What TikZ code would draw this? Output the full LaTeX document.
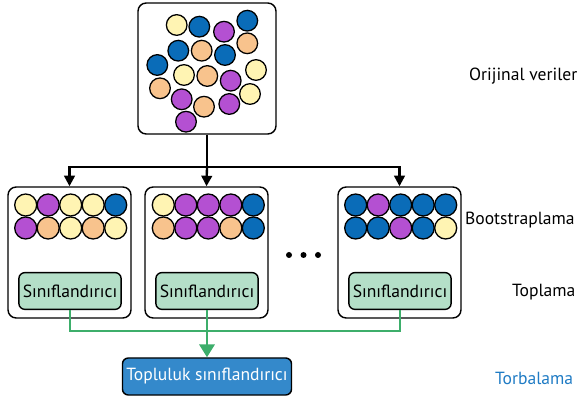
\documentclass[tikz,border=0pt]{standalone}
\usepackage{fontspec}
\setmainfont{PT Sans}
\usetikzlibrary{arrows.meta}

\definecolor{cyellow}{HTML}{FFF4B3}
\definecolor{corange}{HTML}{F8C38D}
\definecolor{cpurple}{HTML}{B450D2}
\definecolor{cblue}{HTML}{0A6CB8}
\definecolor{gfill}{HTML}{B4DFC8}
\definecolor{gline}{HTML}{3DAE6B}
\definecolor{ensfill}{HTML}{3489CB}
\definecolor{labblue}{HTML}{1F7BC4}

\tikzset{
  bigbox/.style={draw, line width=1.2pt, rounded corners=7pt, inner sep=0pt},
  clsbox/.style={draw, line width=1.2pt, rounded corners=5pt, fill=gfill,
    minimum width=2.96cm, minimum height=1.1cm, font=\fontsize{15}{17}\selectfont},
  ball/.style={draw, line width=1.1pt},
  sidelabel/.style={anchor=west, font=\fontsize{15}{17}\selectfont}
}

\begin{document}
\begin{tikzpicture}[x=0.03cm, y=-0.03cm]
        \useasboundingbox (0,0) rectangle (580,399);

        % Original data box
        \node[bigbox, minimum width=4.14cm, minimum height=3.93cm] (orig) at (207,68.5) {};
        \foreach \x/\y/\c in {176.7/25/cyellow, 199.3/26.7/cblue, 224/31.7/cpurple, 247.3/20.7/cblue,
            178.3/50.7/cblue, 201.7/50.7/corange, 225/55/cblue, 247.3/43.3/corange,
            157.3/65/cblue, 184/75/cyellow, 207.3/76/corange, 230.7/80.7/cpurple, 256/70/cyellow,
            160/88.3/corange, 181.7/99.3/cpurple, 204/106.7/corange, 229.3/104/cpurple,
            250/94/cyellow, 186/121.7/cpurple} {
            \filldraw[ball, fill=\c] (\x,\y) circle[radius=0.31cm];
        }

        % Bootstrap boxes
        \node[bigbox, minimum width=3.69cm, minimum height=3.93cm] (boot1) at (69.5,252.5) {};
        \node[bigbox, minimum width=3.69cm, minimum height=3.93cm] (boot2) at (206.5,252.5) {};
        \node[bigbox, minimum width=3.69cm, minimum height=3.93cm] (boot3) at (399.5,252.5) {};

        % Samples in each box
        \foreach \c [count=\i] in {cyellow, cpurple, cyellow, cyellow, cblue} {
            \filldraw[ball, fill=\c] (3.2+22.5*\i,205) circle[radius=0.33cm];
        }
        \foreach \c [count=\i] in {cpurple, corange, cyellow, corange, cyellow} {
            \filldraw[ball, fill=\c] (3.2+22.5*\i,228) circle[radius=0.33cm];
        }
        \foreach \c [count=\i] in {cyellow, cpurple, cpurple, cpurple, cblue} {
            \filldraw[ball, fill=\c] (140.8+22.5*\i,205) circle[radius=0.33cm];
        }
        \foreach \c [count=\i] in {corange, cpurple, cpurple, corange, cblue} {
            \filldraw[ball, fill=\c] (140.8+22.5*\i,228) circle[radius=0.33cm];
        }
        \foreach \c [count=\i] in {cblue, cpurple, cblue, cblue, cblue} {
            \filldraw[ball, fill=\c] (333.2+22.5*\i,205) circle[radius=0.33cm];
        }
        \foreach \c [count=\i] in {cblue, cblue, cpurple, cblue, cyellow} {
            \filldraw[ball, fill=\c] (333.2+22.5*\i,228) circle[radius=0.33cm];
        }

        % Dots between boxes
        \foreach \x in {289, 303.5, 318} {
            \fill (\x,255) circle[radius=0.09cm];
        }

        % Classifiers
        \node[clsbox] (cls1) at (70,291) {Sınıflandırıcı};
        \node[clsbox] (cls2) at (207,291) {Sınıflandırıcı};
        \node[clsbox] (cls3) at (400,291) {Sınıflandırıcı};

        % Ensemble classifier
        \node[draw, line width=1.2pt, rounded corners=5pt, fill=ensfill, text=white,
            minimum width=4.98cm, minimum height=1.11cm, font=\fontsize{15}{17}\selectfont]
            (ens) at (207,376.5) {Topluluk sınıflandırıcı};

        % Arrows from original data
        \coordinate (split) at (207,167);
        \draw[line width=2pt] (orig.south) -- (split);
        \draw[line width=2pt, -{Triangle[length=9pt,width=9pt]}] (split) -| (boot1.north);
        \draw[line width=2pt, -{Triangle[length=9pt,width=9pt]}] (split) -- (boot2.north);
        \draw[line width=2pt, -{Triangle[length=9pt,width=9pt]}] (split) -| (boot3.north);

        % Aggregation lines
        \coordinate (join) at (207,331);
        \draw[gline, line width=2.2pt] (cls1.south) |- (join);
        \draw[gline, line width=2.2pt] (cls3.south) |- (join);
        \draw[gline, line width=2.2pt, -{Triangle[length=11pt,width=13pt]}] (cls2.south) -- (ens.north);

        % Step labels
        \node[sidelabel] (lorig) at (465,76) {Orijinal veriler};
        \node[sidelabel] (lboot) at (461,220) {Bootstraplama};
        \node[sidelabel] (lagg) at (508,292) {Toplama};
        \node[sidelabel, text=labblue] (lbag) at (491,378) {Torbalama};

\end{tikzpicture}
\end{document}
